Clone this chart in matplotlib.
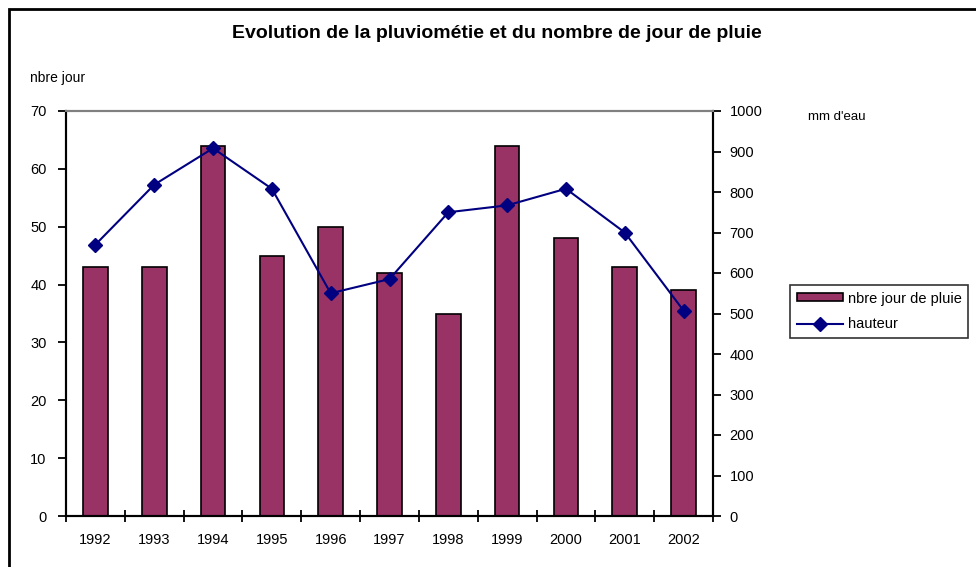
import numpy as np
import matplotlib.pyplot as plt
from matplotlib.patches import Rectangle

plt.rcParams['font.family'] = ['Liberation Sans', 'DejaVu Sans']

annees = ['1992', '1993', '1994', '1995', '1996', '1997', '1998', '1999', '2000', '2001', '2002']
nb_jours = [43, 43, 64, 45, 50, 42, 35, 64, 48, 43, 39]
hauteur = [670, 818, 908, 808, 550, 585, 750, 767, 808, 700, 507]

fig = plt.figure(figsize=(9.76, 5.67), dpi=100)
ax = fig.add_axes([66/976, 1-516/567, (713-66)/976, (516-111)/567])
ax2 = ax.twinx()

x = np.arange(len(annees))
ax.bar(x, nb_jours, width=0.42, color='#993366', edgecolor='black', linewidth=1.2,
       label='nbre jour de pluie', zorder=2)
ax2.plot(x, hauteur, color='#000080', lw=1.5, marker='D', markersize=7,
         label='hauteur', zorder=3)

ax.set_xlim(-0.5, len(annees) - 0.5)
ax.set_ylim(0, 70)
ax2.set_ylim(0, 1000)
ax.set_yticks(range(0, 71, 10))
ax2.set_yticks(range(0, 1001, 100))

# ticks sur les limites de categories, labels au centre
ax.set_xticks(np.arange(-0.5, len(annees), 1.0))
ax.set_xticklabels([])
ax.set_xticks(x, minor=True)
ax.set_xticklabels(annees, minor=True)
ax.tick_params(axis='x', which='major', direction='inout', length=8, width=1.3)
ax.tick_params(axis='x', which='minor', length=0, pad=12, labelsize=10.5)
ax.tick_params(axis='y', direction='out', length=6, width=1.3, labelsize=10.5, pad=8)
ax2.tick_params(axis='y', direction='out', length=6, width=1.3, labelsize=10.5, pad=6)

for a in (ax, ax2):
    a.spines['top'].set_color('#808080')
    a.spines['top'].set_linewidth(1.5)
    for s in ('left', 'right', 'bottom'):
        a.spines[s].set_linewidth(1.5)
        a.spines[s].set_color('black')

fig.text(497/976, 1-33/567, 'Evolution de la pluviométie et du nombre de jour de pluie',
         ha='center', va='center', fontsize=14, fontweight='bold')
fig.text(30/976, 1-78/567, 'nbre jour', ha='left', va='center', fontsize=10)
fig.text(808/976, 1-117/567, "mm d'eau", ha='left', va='center', fontsize=9.5)

h1, l1 = ax.get_legend_handles_labels()
h2, l2 = ax2.get_legend_handles_labels()
leg = fig.legend(h1 + h2, l1 + l2, loc='upper left', bbox_to_anchor=(790/976, 1-285/567),
                 fontsize=10.5, frameon=True, fancybox=False, edgecolor='black',
                 handlelength=3.2, handleheight=0.45, borderpad=0.45, labelspacing=0.8,
                 handletextpad=0.3, borderaxespad=0)
leg.get_frame().set_linewidth(1.2)

# cadre exterieur
fig.patches.append(Rectangle((9/976, -0.1), 1.2, 1.1 - 9/567, transform=fig.transFigure,
                             fill=False, edgecolor='black', linewidth=2))

fig.savefig('out.png', dpi=100)
